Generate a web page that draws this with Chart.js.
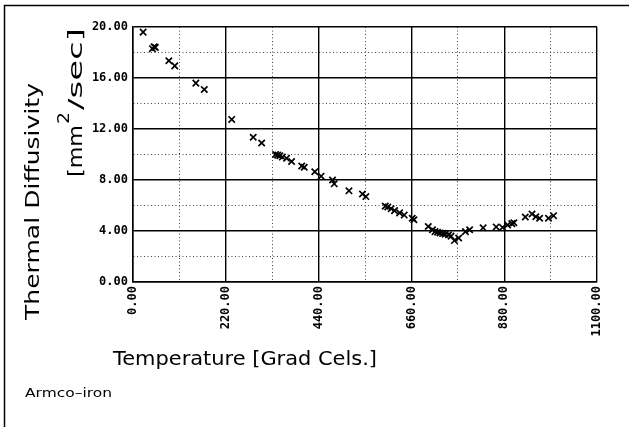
<!DOCTYPE html>
<html>
<head>
<meta charset="utf-8">
<script src="https://cdn.jsdelivr.net/npm/chart.js@4"></script>
<style>
html, body { margin: 0; padding: 0; background: #fff; }
#wrap { width: 629px; height: 427px; position: relative; }
</style>
</head>
<body>
<div id="wrap"><canvas id="diffChart"></canvas></div>
<script>
// Armco-iron: thermal diffusivity against temperature
var temperature = [24, 46, 50, 53, 85, 99, 149, 169, 234, 285,
  305, 338, 343, 348, 354, 364, 376, 400, 406, 431,
  446, 473, 477, 512, 544, 552, 598, 604, 612, 620,
  632, 643, 662, 666, 700, 710, 716, 722, 728, 734,
  740, 748, 754, 762, 772, 788, 798, 830, 861, 876,
  888, 898, 903, 930, 946, 955, 964, 985, 997];
var diffusivity = [19.6, 18.3, 18.45, 18.4, 17.35, 16.95, 15.6, 15.1, 12.75, 11.35,
  10.9, 10.0, 9.95, 9.9, 9.8, 9.7, 9.45, 9.1, 9.0, 8.65,
  8.3, 8.0, 7.7, 7.15, 6.9, 6.7, 5.95, 5.88, 5.75, 5.6,
  5.42, 5.25, 5.0, 4.88, 4.35, 4.1, 3.95, 3.9, 3.85, 3.8,
  3.75, 3.7, 3.6, 3.25, 3.45, 3.95, 4.1, 4.25, 4.32, 4.28,
  4.47, 4.58, 4.65, 5.1, 5.33, 5.12, 5.0, 5.0, 5.2];
var xTicks = [0, 220, 440, 660, 880, 1100];
var yTicks = [0, 4, 8, 12, 16, 20];

var points = [];
for (var i = 0; i < temperature.length; i++) {
  points.push({x: temperature[i], y: diffusivity[i]});
}

function isMajor(ctx, list) {
  return ctx.tick && list.indexOf(ctx.tick.value) >= 0;
}

// draws text stretched to a given length (plotter font is wider than ours)
function fitText(ctx, text, x, y, width, size, angle) {
  ctx.save();
  ctx.font = size + 'px "DejaVu Sans"';
  var w = ctx.measureText(text).width;
  ctx.translate(x, y);
  if (angle) ctx.rotate(angle);
  ctx.scale(width / w, 1);
  ctx.textAlign = 'left';
  ctx.textBaseline = 'alphabetic';
  ctx.fillStyle = '#000';
  ctx.fillText(text, 0, 0);
  ctx.restore();
}

var labels = {
  id: 'labels',
  afterDraw: function(chart) {
    var ctx = chart.ctx;
    // outer frame (top and left only)
    ctx.save();
    ctx.strokeStyle = '#000';
    ctx.lineWidth = 1.5;
    ctx.beginPath();
    ctx.moveTo(4.5, 427);
    ctx.lineTo(4.5, 5.5);
    ctx.lineTo(629, 5.5);
    ctx.stroke();
    ctx.restore();

    var up = -Math.PI / 2;
    fitText(ctx, 'Thermal Diffusivity', 39, 320, 237, 19, up);
    fitText(ctx, '[mm', 82, 177, 52, 20, up);
    fitText(ctx, '2', 69, 124, 12, 16, up);
    fitText(ctx, '/sec]', 82, 110, 82, 20, up);
    fitText(ctx, 'Temperature [Grad Cels.]', 113, 365, 264, 20, 0);
    fitText(ctx, 'Armco\u2013iron', 25, 397, 87, 13, 0);
  }
};

var ctx = document.getElementById('diffChart').getContext('2d');
var diffChart = new Chart(ctx, {
  type: 'scatter',
  data: {
    datasets: [{
      data: points,
      pointStyle: 'crossRot',
      pointRadius: 4.5,
      pointBorderWidth: 1.7,
      borderColor: '#000',
      backgroundColor: '#000'
    }]
  },
  options: {
    responsive: true,
    maintainAspectRatio: false,
    devicePixelRatio: 1,
    animation: false,
    layout: { padding: { left: 0, top: 27, right: 32, bottom: 0 } },
    plugins: { legend: { display: false }, tooltip: { enabled: false } },
    scales: {
      x: {
        type: 'linear',
        min: 0,
        max: 1100,
        afterFit: function(scale) { scale.height = 145; },
        ticks: {
          stepSize: 110,
          autoSkip: false,
          minRotation: 90,
          maxRotation: 90,
          padding: 4,
          color: '#000',
          font: { family: '"DejaVu Sans Mono"', size: 12, weight: 'bold' },
          callback: function(v) { return xTicks.indexOf(v) >= 0 ? v.toFixed(2) : ''; }
        },
        grid: {
          drawTicks: false,
          color: function(c) { return isMajor(c, xTicks) ? '#000' : '#444'; },
          lineWidth: function(c) { return isMajor(c, xTicks) ? 1.4 : 1; }
        },
        border: {
          color: '#000',
          width: 1.5,
          dash: function(c) { return (!c.tick || isMajor(c, xTicks)) ? [] : [1, 2.5]; }
        }
      },
      y: {
        min: 0,
        max: 20,
        afterFit: function(scale) { scale.width = 133; },
        ticks: {
          stepSize: 2,
          autoSkip: false,
          padding: 5,
          color: '#000',
          font: { family: '"DejaVu Sans Mono"', size: 12, weight: 'bold' },
          callback: function(v) { return yTicks.indexOf(v) >= 0 ? v.toFixed(2) : ''; }
        },
        grid: {
          drawTicks: false,
          color: function(c) { return isMajor(c, yTicks) ? '#000' : '#444'; },
          lineWidth: function(c) { return isMajor(c, yTicks) ? 1.4 : 1; }
        },
        border: {
          color: '#000',
          width: 1.5,
          dash: function(c) { return (!c.tick || isMajor(c, yTicks)) ? [] : [1, 2.5]; }
        }
      }
    }
  },
  plugins: [labels]
});
</script>
</body>
</html>
